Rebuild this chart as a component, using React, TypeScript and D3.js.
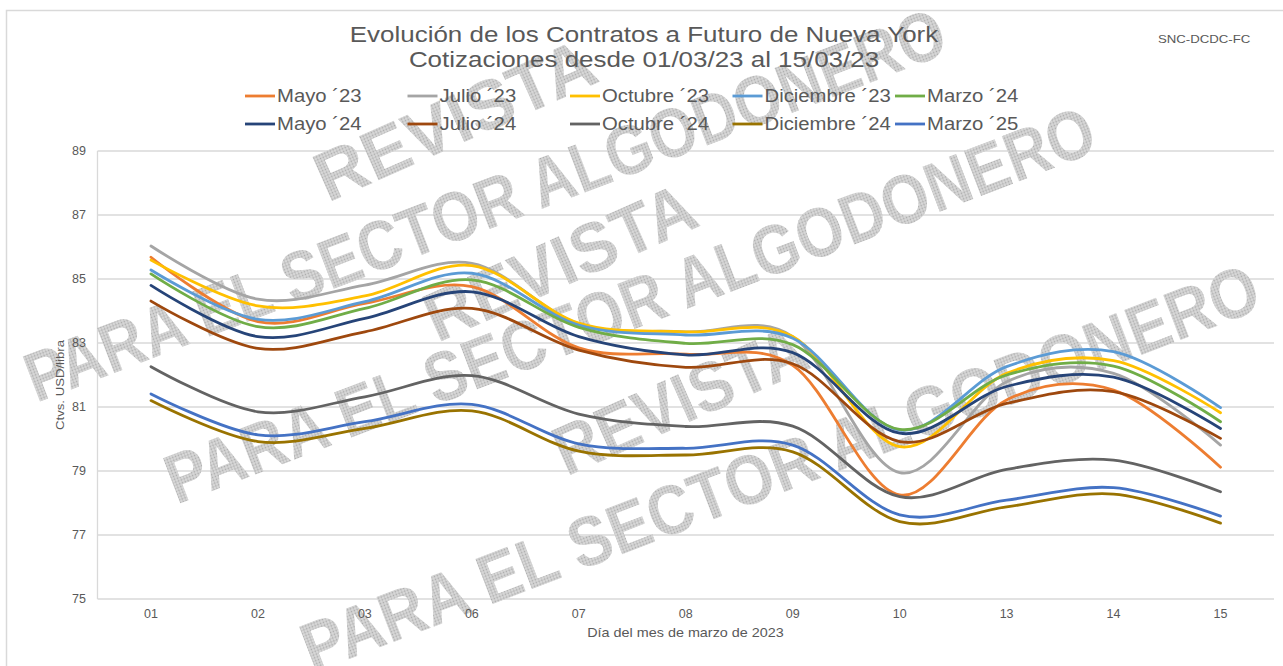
import React from "react";
import * as d3 from "d3";

const categories = ["01", "02", "03", "06", "07", "08", "09", "10", "13", "14", "15"];
const seriesNames = [
  "Mayo ´23", "Julio ´23", "Octubre ´23", "Diciembre ´23", "Marzo ´24",
  "Mayo ´24", "Julio ´24", "Octubre ´24", "Diciembre ´24", "Marzo ´25",
];
const mayo23 = [85.68, 83.67, 84.24, 84.76, 82.85, 82.65, 82.3, 78.25, 81.22, 81.53, 79.12];
const julio23 = [86.03, 84.37, 84.81, 85.49, 83.6, 83.35, 83.2, 78.95, 81.79, 82.05, 79.81];
const octubre23 = [85.59, 84.16, 84.47, 85.42, 83.62, 83.35, 83.2, 79.76, 82.05, 82.45, 80.82];
const diciembre23 = [85.28, 83.74, 84.29, 85.18, 83.56, 83.25, 83.15, 80.28, 82.26, 82.73, 80.98];
const marzo24 = [85.16, 83.51, 84.08, 84.97, 83.49, 82.99, 82.95, 80.3, 82.0, 82.28, 80.54];
const mayo24 = [84.8, 83.2, 83.77, 84.6, 83.2, 82.63, 82.7, 80.18, 81.64, 81.93, 80.33];
const julio24 = [84.31, 82.83, 83.35, 84.08, 82.78, 82.24, 82.35, 79.92, 81.11, 81.48, 80.02];
const octubre24 = [82.26, 80.85, 81.32, 81.98, 80.78, 80.39, 80.4, 78.2, 79.05, 79.34, 78.35];
const diciembre24 = [81.2, 79.92, 80.33, 80.88, 79.62, 79.5, 79.6, 77.42, 77.88, 78.28, 77.37];
const marzo25 = [81.41, 80.13, 80.54, 81.08, 79.85, 79.71, 79.81, 77.63, 78.09, 78.48, 77.59];
const yTicks = [75, 77, 79, 81, 83, 85, 87, 89];

const seriesValues = [mayo23, julio23, octubre23, diciembre23, marzo24, mayo24, julio24, octubre24, diciembre24, marzo25];
const colors = ["#ED7D31", "#A5A5A5", "#FFC000", "#5B9BD5", "#70AD47", "#264478", "#9E480E", "#636363", "#997300", "#4472C4"];

const W = 1283;
const H = 666;
const FONT = "'Liberation Sans', Arial, sans-serif";
const TXT = "#595959";

function SText(props: {
  x: number; y: number; sx?: number; rot?: number; size: number; anchor?: string; dy?: string; children: React.ReactNode;
}) {
  const { x, y, sx = 1, rot = 0, size, anchor = "start", dy, children } = props;
  return (
    <g transform={`translate(${x} ${y}) rotate(${rot}) scale(${sx} 1)`}>
      <text x={0} y={0} dy={dy} textAnchor={anchor} fontSize={size} fill={TXT}>
        {children}
      </text>
    </g>
  );
}

export default function App() {
  const x = d3.scaleBand<string>().domain(categories).range([97.5, 1274]);
  const y = d3.scaleLinear().domain([75, 89]).range([599, 151]);
  const line = d3
    .line<number>()
    .x((_, i) => (x(categories[i]) as number) + x.bandwidth() / 2)
    .y((d) => y(d))
    .curve(d3.curveCardinal.tension(0));

  const watermarks = [
    { t: "REVISTA", cx: 455, cy: 120, a: -24, len: 300 },
    { t: "PARA EL SECTOR ALGODONERO", cx: 485, cy: 205, a: -21, len: 980 },
    { t: "REVISTA", cx: 560, cy: 262, a: -24, len: 290 },
    { t: "PARA EL SECTOR ALGODONERO", cx: 630, cy: 305, a: -21, len: 990 },
    { t: "REVISTA", cx: 680, cy: 400, a: -24, len: 270 },
    { t: "PARA EL SECTOR ALGODONERO", cx: 780, cy: 468, a: -21, len: 1020 },
  ];

  const legendX = [245, 407.5, 570, 732.5, 895];
  const legendY = [96, 124];

  return (
    <svg
      width={W}
      height={H}
      style={{ position: "absolute", left: 0, top: 0, background: "#fff" }}
      fontFamily={FONT}
    >
      <defs>
        <pattern id="dots" width="3" height="3" patternUnits="userSpaceOnUse">
          <rect width="3" height="3" fill="#dadada" />
          <circle cx="1.5" cy="1.5" r="0.9" fill="#ababab" />
        </pattern>
      </defs>
      <rect x={6.5} y={10.5} width={1300} height={700} fill="#fff" stroke="#d9d9d9" strokeWidth={1.5} />

      {yTicks.map((t) => (
        <line key={t} x1={97.5} x2={1274} y1={y(t)} y2={y(t)} stroke="#d9d9d9" strokeWidth={1.3} />
      ))}
      <line x1={97.5} x2={97.5} y1={y(89)} y2={y(75)} stroke="#d9d9d9" strokeWidth={1.3} />

      <g>
        {watermarks.map((w, i) => (
          <text
            key={i}
            x={w.cx}
            y={w.cy}
            transform={`rotate(${w.a} ${w.cx} ${w.cy})`}
            textAnchor="middle"
            dominantBaseline="central"
            fontSize={70}
            fontWeight="bold"
            fill="url(#dots)"
            textLength={w.len}
            lengthAdjust="spacingAndGlyphs"
          >
            {w.t}
          </text>
        ))}
      </g>

      {yTicks.map((t) => (
        <text key={t} x={86} y={y(t)} dy="0.35em" textAnchor="end" fontSize={12.5} fill={TXT}>
          {t}
        </text>
      ))}
      {categories.map((c) => (
        <text key={c} x={(x(c) as number) + x.bandwidth() / 2} y={618} textAnchor="middle" fontSize={12.5} fill={TXT}>
          {c}
        </text>
      ))}
      <SText x={685.5} y={637} sx={1.15} size={12.5} anchor="middle">
        Día del mes de marzo de 2023
      </SText>
      <SText x={64} y={385} rot={-90} sx={1.2} size={11} anchor="middle">
        Ctvs. USD/libra
      </SText>

      {seriesValues.map((vals, i) => (
        <path key={i} d={line(vals) || ""} fill="none" stroke={colors[i]} strokeWidth={2.8} strokeLinecap="round" />
      ))}

      <SText x={644} y={42} sx={1.18} size={22} anchor="middle">
        Evolución de los Contratos a Futuro de Nueva York
      </SText>
      <SText x={644} y={67} sx={1.18} size={22} anchor="middle">
        Cotizaciones desde 01/03/23 al 15/03/23
      </SText>
      <SText x={1158} y={43} sx={1.2} size={11}>
        SNC-DCDC-FC
      </SText>

      {seriesNames.map((n, i) => {
        const lx = legendX[i % 5];
        const ly = legendY[Math.floor(i / 5)];
        return (
          <g key={n}>
            <line x1={lx} x2={lx + 30} y1={ly} y2={ly} stroke={colors[i]} strokeWidth={2.8} />
            <SText x={lx + 32} y={ly} dy="0.36em" sx={1.16} size={17.5}>
              {n}
            </SText>
          </g>
        );
      })}
    </svg>
  );
}
